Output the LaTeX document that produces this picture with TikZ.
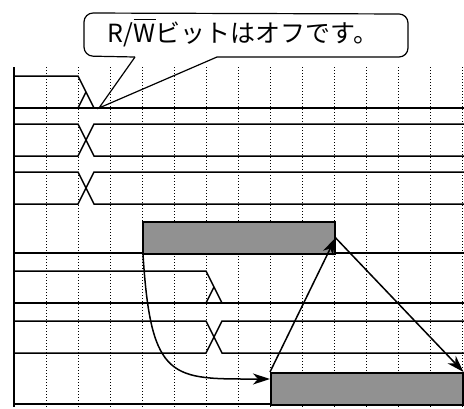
\documentclass[tikz,border=0pt]{standalone}
\usepackage{fontspec}
\newfontfamily\jpfont{Noto Sans CJK JP}
\usetikzlibrary{arrows.meta}
\newsavebox\wbox
\newcommand\ovW{\sbox\wbox{W}\rlap{\rule[0.9em]{\wd\wbox}{0.075em}}\usebox\wbox}
\definecolor{boxgray}{RGB}{145,145,145}
\tikzset{
  sig/.style={line width=1.5pt},
  griddot/.style={line width=1pt, dash pattern=on 1pt off 2pt},
  databox/.style={draw, line width=1.5pt, fill=boxgray, inner sep=0pt, anchor=north west},
  conn/.style={line width=1.5pt, -{Stealth[length=17pt,width=11pt,inset=5pt]}},
  callout/.style={line width=1.2pt},
  msgtext/.style={font=\jpfont\fontsize{25}{25}\selectfont, inner sep=0pt}
}
\begin{document}
\begin{tikzpicture}[x=1pt,y=-1pt]
\useasboundingbox (0,0) rectangle (464,408);
% grid
\foreach \x in {46,78,...,462} \draw[griddot] (\x,67) -- (\x,408);
% axis
\draw[sig] (14,67) -- (14,407);
% row 1
\draw[sig] (14,76) -- (78,76) -- (94,108);
\draw[sig] (14,108) -- (464,108);
\draw[sig] (78,108) -- (86,92);
% row 2
\draw[sig] (14,124) -- (78,124) -- (94,156) -- (464,156);
\draw[sig] (14,156) -- (78,156) -- (94,124) -- (464,124);
% row 3
\draw[sig] (14,172) -- (78,172) -- (94,204) -- (464,204);
\draw[sig] (14,204) -- (78,204) -- (94,172) -- (464,172);
% row 4
\draw[sig] (14,253) -- (142,253);
\draw[sig] (334,253) -- (464,253);
\node[databox, minimum width=192pt, minimum height=32pt] (b1) at (142,221) {};
% row 5
\draw[sig] (14,271) -- (206,271) -- (222,303);
\draw[sig] (14,303) -- (464,303);
\draw[sig] (206,303) -- (214,287);
% row 6
\draw[sig] (14,321) -- (206,321) -- (222,353) -- (464,353);
\draw[sig] (14,353) -- (206,353) -- (222,321) -- (464,321);
% row 7
\draw[sig] (14,404) -- (270,404);
\node[databox, minimum width=192pt, minimum height=32pt] (b2) at (270,372) {};
% connectors
\coordinate (c1) at ([xshift=1pt]b1.south west);
\coordinate (c2) at ([yshift=-7pt]b2.north west);
\draw[conn] (c1) .. controls (151,382) and (172,379) .. (c2);
\draw[conn] (b2.north west) -- (b1.east);
\draw[conn] (b1.east) -- (b2.north east);
% callout
\node[msgtext] (msg) at (243,33) {R/\ovW ビットはオフです。};
\coordinate (tip) at (99,108);
\draw[callout, rounded corners=9pt] (135,57) -- (84,56) -- (84,13) -- (408,14) -- (408,57) -- (217,57);
\draw[callout] (135,57) -- (tip) -- (217,57);
\end{tikzpicture}
\end{document}
